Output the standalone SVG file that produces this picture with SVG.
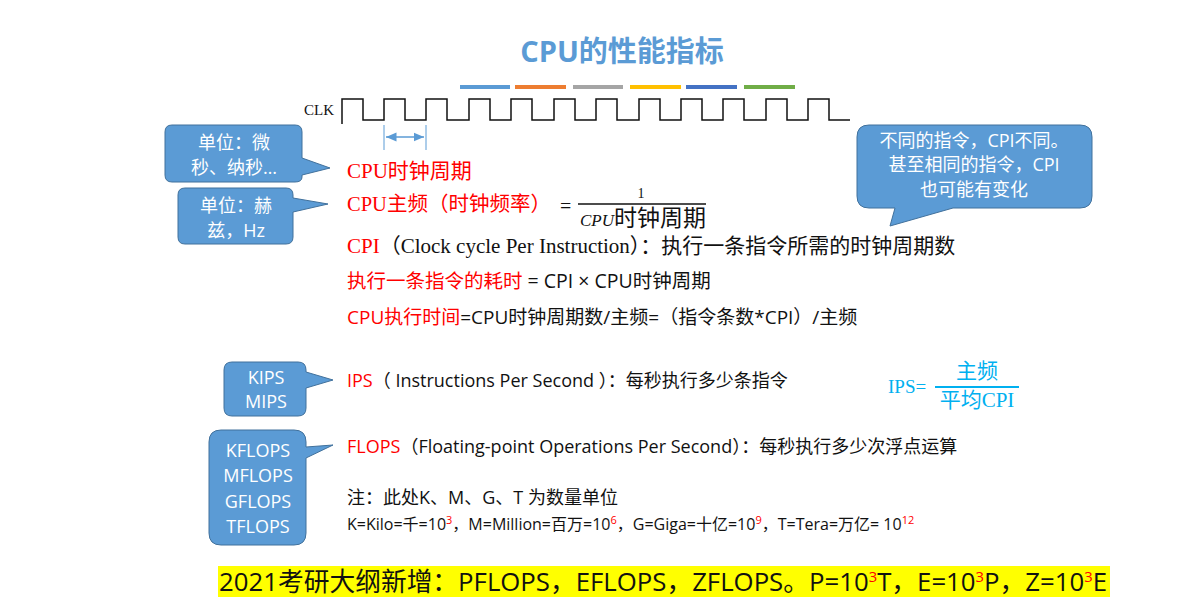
<svg xmlns="http://www.w3.org/2000/svg" width="1195" height="607" viewBox="0 0 1195 607">
<style>
.cn{font-family:"Liberation Serif","Noto Sans CJK SC",serif}
.sn{font-family:"Open Sans","Noto Sans CJK SC",sans-serif}
.red{fill:#ff0000}
.blk{fill:#111}
.call{fill:#5b9bd5;stroke:#41719c;stroke-width:1}
.ct{font-family:"Open Sans","Noto Sans CJK SC",sans-serif;font-size:18px;fill:#fff;text-anchor:middle}
.sup{fill:#ff0000}
</style>
<defs>
<marker id="ah" markerWidth="8" markerHeight="8" refX="7" refY="4" orient="auto-start-reverse"><path d="M0,1 L7,4 L0,7z" fill="#5b9bd5"/></marker>
</defs>
<rect width="1195" height="607" fill="#fff"/>
<text x="622" y="62" text-anchor="middle" font-family="'Open Sans','Noto Sans CJK SC',sans-serif" font-size="29" font-weight="bold" fill="#5b9bd5">CPU的性能指标</text>
<g id="bars" stroke-width="4">
<line x1="460" y1="87" x2="510" y2="87" stroke="#5b9bd5"/>
<line x1="515" y1="87" x2="566" y2="87" stroke="#ed7d31"/>
<line x1="573" y1="87" x2="623" y2="87" stroke="#a5a5a5"/>
<line x1="630" y1="87" x2="681" y2="87" stroke="#ffc000"/>
<line x1="686" y1="87" x2="737" y2="87" stroke="#4472c4"/>
<line x1="744" y1="87" x2="795" y2="87" stroke="#70ad47"/>
</g>
<g id="clk">
<text x="304" y="115" font-family="'Liberation Serif',serif" font-size="15" fill="#111">CLK</text>
<path d="M342,124 V99 H363 V120 H384 V99 H405 V120 H426 V99 H447 V120 H469 V99 H490 V120 H511 V99 H532 V120 H554 V99 H575 V120 H596 V99 H617 V120 H639 V99 H660 V120 H681 V99 H702 V120 H723 V99 H744 V120 H766 V99 H787 V120 H808 V99 H829 V120 H850" fill="none" stroke="#111" stroke-width="1.5"/>
</g>
<g id="connectors">
<line x1="384" y1="125" x2="384" y2="150" stroke="#5b9bd5"/>
<line x1="426" y1="125" x2="426" y2="150" stroke="#5b9bd5"/>
<line x1="386" y1="137" x2="424" y2="137" stroke="#5b9bd5" stroke-width="1.5" marker-start="url(#ah)" marker-end="url(#ah)"/>
</g>
<g id="callout1"><path class="call" d="M172,125 H295 Q302,125 302,132 V158 L330,168 L302,175 V177 Q302,182 295,182 H172 Q165,182 165,175 V132 Q165,125 172,125Z"/>
<text class="ct" x="234" y="149">单位：微</text><text class="ct" x="234" y="174">秒、纳秒…</text></g>
<g id="callout2"><path class="call" d="M185,188 H286 Q293,188 293,195 V198 L328,204 L293,212 V237 Q293,244 286,244 H185 Q178,244 178,237 V195 Q178,188 185,188Z"/>
<text class="ct" x="236" y="212">单位：赫</text><text class="ct" x="236" y="237">兹，Hz</text></g>
<g id="callout3"><path class="call" d="M869,125 H1080 Q1092,125 1092,137 V196 Q1092,208 1080,208 H953 L890,226 L895,208 H869 Q857,208 857,196 V137 Q857,125 869,125Z"/>
<text class="ct" x="974" y="147">不同的指令，CPI不同。</text><text class="ct" x="974" y="171">甚至相同的指令，CPI</text><text class="ct" x="974" y="196">也可能有变化</text></g>
<g id="callout4"><path class="call" d="M232,362 H298 Q306,362 306,370 V372 L333,380 L306,388 V408 Q306,416 298,416 H232 Q224,416 224,408 V370 Q224,362 232,362Z"/>
<text class="ct" x="266" y="384">KIPS</text><text class="ct" x="266" y="408">MIPS</text></g>
<g id="callout5"><path class="call" d="M221,430 H294 Q306,430 306,442 V447 L333,445 L306,458 V533 Q306,545 294,545 H221 Q209,545 209,533 V442 Q209,430 221,430Z"/>
<text class="ct" x="258" y="457">KFLOPS</text><text class="ct" x="258" y="482">MFLOPS</text><text class="ct" x="258" y="508">GFLOPS</text><text class="ct" x="258" y="533">TFLOPS</text></g>
<g id="text">
<text class="cn red" x="347" y="178" style="font-size:21px">CPU时钟周期</text>
<text class="cn red" x="347" y="211" style="font-size:20.5px">CPU主频（时钟频率）</text>
<text class="cn blk" x="560" y="213" style="font-size:20px">=</text>
<text class="cn blk" x="641" y="198" style="font-size:14px" text-anchor="middle">1</text>
<line x1="578" y1="204" x2="706" y2="204" stroke="#111" stroke-width="1.5"/>
<text class="cn blk" x="580" y="226" style="font-size:23px"><tspan font-style="italic" style="font-size:17px">CPU</tspan>时钟周期</text>
<text class="cn" x="347" y="253" style="font-size:21px"><tspan class="red">CPI</tspan><tspan class="blk">（Clock cycle Per Instruction）：执行一条指令所需的时钟周期数</tspan></text>
<text class="sn" x="347" y="288" style="font-size:19.5px"><tspan class="red">执行一条指令的耗时</tspan><tspan class="blk"> = CPI × CPU时钟周期</tspan></text>
<text class="sn" x="347" y="324" style="font-size:19px"><tspan class="red">CPU执行时间</tspan><tspan class="blk">=CPU时钟周期数/主频=（指令条数*CPI）/主频</tspan></text>
<text class="sn" x="347" y="387" style="font-size:18px"><tspan class="red">IPS</tspan><tspan class="blk">（ Instructions Per Second ）：每秒执行多少条指令</tspan></text>
<text x="888" y="393" font-family="'Liberation Serif','Noto Sans CJK SC',serif" font-size="19" fill="#00b0f0">IPS=</text>
<text x="977" y="378" text-anchor="middle" font-family="'Liberation Serif','Noto Sans CJK SC',serif" font-size="21" fill="#00b0f0">主频</text>
<line x1="935" y1="387" x2="1019" y2="387" stroke="#00b0f0" stroke-width="2"/>
<text x="977" y="407" text-anchor="middle" font-family="'Liberation Serif','Noto Sans CJK SC',serif" font-size="21" fill="#00b0f0">平均CPI</text>
<text class="sn" x="347" y="453" style="font-size:18px"><tspan class="red">FLOPS</tspan><tspan class="blk">（Floating-point Operations Per Second）：每秒执行多少次浮点运算</tspan></text>
<text class="sn blk" x="347" y="504" style="font-size:18px">注：此处K、M、G、T 为数量单位</text>
<text class="sn blk" x="347" y="530" style="font-size:16px">K=Kilo=千=10<tspan class="sup" style="font-size:11px" dy="-6">3</tspan><tspan dy="6">，M=Million=百万=10</tspan><tspan class="sup" style="font-size:11px" dy="-6">6</tspan><tspan dy="6">，G=Giga=十亿=10</tspan><tspan class="sup" style="font-size:11px" dy="-6">9</tspan><tspan dy="6">，T=Tera=万亿= 10</tspan><tspan class="sup" style="font-size:11px" dy="-6">12</tspan></text>
<rect x="218" y="566" width="892" height="31" fill="#ffff00"/>
<text class="sn blk" x="219" y="591" style="font-size:26px" textLength="888" lengthAdjust="spacingAndGlyphs">2021考研大纲新增：PFLOPS，EFLOPS，ZFLOPS。P=10<tspan class="sup" style="font-size:15px" dy="-9">3</tspan><tspan dy="9">T，E=10</tspan><tspan class="sup" style="font-size:15px" dy="-9">3</tspan><tspan dy="9">P，Z=10</tspan><tspan class="sup" style="font-size:15px" dy="-9">3</tspan><tspan dy="9">E</tspan></text>
</g>
</svg>
